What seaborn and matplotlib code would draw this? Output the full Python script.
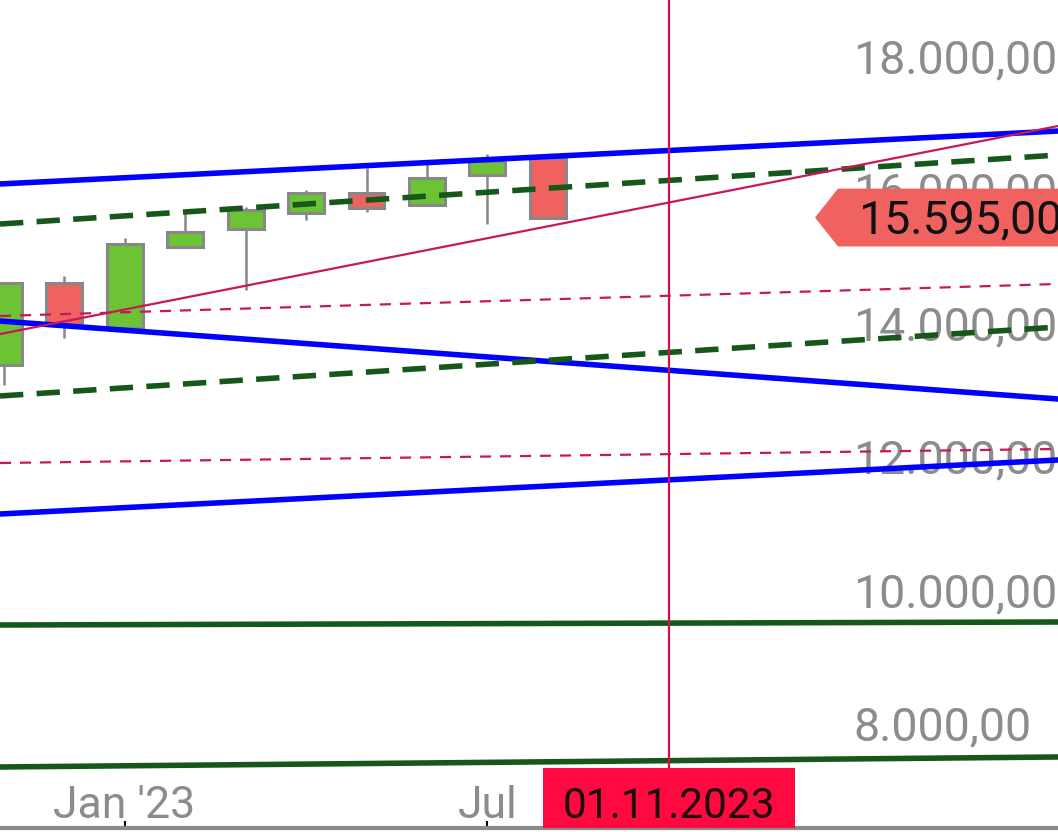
import numpy as np
import pandas as pd
import matplotlib
matplotlib.use("Agg")
import matplotlib.pyplot as plt
import matplotlib.transforms as mtransforms
from matplotlib.patches import Polygon, Rectangle
import seaborn as sns

# ---- data ----
months = ["Nov '22", "Dec '22", "Jan '23", "Feb '23", "Mar '23", "Apr '23",
          "May '23", "Jun '23", "Jul '23", "Aug '23"]
month_idx = [-2, -1, 0, 1, 2, 3, 4, 5, 6, 7]
opens  = [13386, 14614, 13940, 15154, 15423, 15663, 15963, 15783, 16232, 16487]
highs  = [14620, 14719, 15289, 15663, 15753, 16008, 16337, 16457, 16547, 16487]
lows   = [13087, 13791, 13940, 15154, 14510, 15558, 15678, 15783, 15498, 15595]
closes = [14614, 13985, 15199, 15378, 15708, 15963, 15738, 16187, 16442, 15595]

# trend lines: value at left edge / right edge of the view
line_names  = ["blue_up", "blue_down", "blue_low", "green_d_up", "green_d_low",
               "crimson", "crimson_d_up", "crimson_d_low", "green_s1", "green_s2"]
line_start  = [16098, 14045, 11154, 15498, 12922, 13850, 14120, 11918, 9491, 7364]
line_end    = [16891, 12877, 11963, 16532, 13955, 16966, 14600, 12128, 9536, 7514]

y_ticks = [6000, 8000, 10000, 12000, 14000, 16000, 18000]
y_tick_labels = ["6.000,00", "8.000,00", "10.000,00", "12.000,00", "14.000,00",
                 "16.000,00", "18.000,00"]
x_ticks = [0, 6]
x_tick_labels = ["Jan '23", "Jul"]
cross_x = 9
cross_label = "01.11.2023"
last_price = 15595
last_price_label = "15.595,00"

# ---- style ----
sns.set_theme(style="white")
plt.rcParams["font.family"] = ["Roboto", "DejaVu Sans"]

W, H = 1058, 832
fig = plt.figure(figsize=(W / 100, H / 100), dpi=100)
ax = fig.add_axes([0, 4 / H, 1, 828 / H])
xmin, xmax = -2.058, 15.43
ax.set_xlim(xmin, xmax)
ax.set_ylim(6450, 18854)

for s in ["top", "left", "right"]:
    ax.spines[s].set_visible(False)
ax.spines["bottom"].set_color("#8a8a8a")
ax.spines["bottom"].set_linewidth(3)
ax.set_yticks([])
ax.set_xticks(x_ticks + [cross_x])
ax.set_xticklabels([])
ax.tick_params(axis="x", direction="in", length=5, width=1.5, color="black", bottom=True)

# y labels (inside, drawn under lines)
ytrans = mtransforms.blended_transform_factory(ax.transAxes, ax.transData)
ytrans_off = mtransforms.offset_copy(ytrans, fig=fig, y=-16, units="dots")
for v, lab in zip(y_ticks, y_tick_labels):
    ax.text(853 / W, v, lab, transform=ytrans_off, ha="left", va="baseline",
            fontsize=33.5, color="#8c8c8c", zorder=1, clip_on=True)

# x labels
xtrans = mtransforms.blended_transform_factory(ax.transData, ax.transAxes)
for xv, lab in zip(x_ticks, x_tick_labels):
    ax.text(xv, 10 / 828, lab, transform=xtrans, ha="center", va="baseline",
            fontsize=32, color="#8c8c8c", zorder=1)

# trend lines via seaborn
rows = []
for n, a, b in zip(line_names, line_start, line_end):
    rows.append({"name": n, "x": xmin, "y": a})
    rows.append({"name": n, "x": xmax, "y": b})
lines_df = pd.DataFrame(rows)

styles = {
    "blue_up":       dict(color="#0000ff", lw=4.0, ls="-"),
    "blue_down":     dict(color="#0000ff", lw=4.0, ls="-"),
    "blue_low":      dict(color="#0000ff", lw=4.0, ls="-"),
    "green_d_up":    dict(color="#16581a", lw=4.0, ls=(0, (4.2, 2.4))),
    "green_d_low":   dict(color="#16581a", lw=4.0, ls=(0, (4.2, 2.4))),
    "crimson":       dict(color="#c8185a", lw=1.6, ls="-"),
    "crimson_d_up":  dict(color="#c8185a", lw=1.6, ls=(0, (5, 4))),
    "crimson_d_low": dict(color="#c8185a", lw=1.6, ls=(0, (5, 4))),
    "green_s1":      dict(color="#16581a", lw=4.0, ls="-"),
    "green_s2":      dict(color="#16581a", lw=4.0, ls="-"),
}

# candles
x = np.array(month_idx, dtype=float)
o = np.array(opens); c = np.array(closes)
hi = np.array(highs); lo = np.array(lows)
up = c >= o
ax.vlines(x, lo, hi, color="#888888", lw=1.8, zorder=3)
ax.bar(x, np.abs(c - o), bottom=np.minimum(o, c), width=0.595,
       color=np.where(up, "#6cc334", "#f06260"), edgecolor="#888888",
       linewidth=2.2, zorder=4)

for n in line_names:
    st = styles[n]
    sns.lineplot(data=lines_df[lines_df["name"] == n], x="x", y="y", ax=ax,
                 color=st["color"], linewidth=st["lw"], linestyle=st["ls"],
                 legend=False, zorder=5)
ax.set_xlabel("")
ax.set_ylabel("")

# crosshair
ax.axvline(cross_x, color="#d0104a", lw=1.6, zorder=6)
bw = 252 / 60.5
ax.add_patch(Rectangle((cross_x - bw / 2, 0), bw, 60 / 828, transform=xtrans,
                       facecolor="#ff0a40", edgecolor="none", zorder=7, clip_on=False))
ax.text(cross_x, 10 / 828, cross_label, transform=xtrans, ha="center", va="baseline",
        fontsize=30.5, color="#1a0a0a", zorder=8)

# last price tag
half = 29 * 14.95
poly = Polygon([(815 / W, last_price), (838 / W, last_price + half), (1.0, last_price + half),
                (1.0, last_price - half), (838 / W, last_price - half)],
               closed=True, transform=ytrans, facecolor="#f0625f", edgecolor="none",
               zorder=7)
ax.add_patch(poly)
ax.text(858 / W, last_price, last_price_label, transform=ytrans_off, ha="left",
        va="baseline", fontsize=33.5, color="#111111", zorder=8, clip_on=True)

fig.savefig("out.png", dpi=100)
